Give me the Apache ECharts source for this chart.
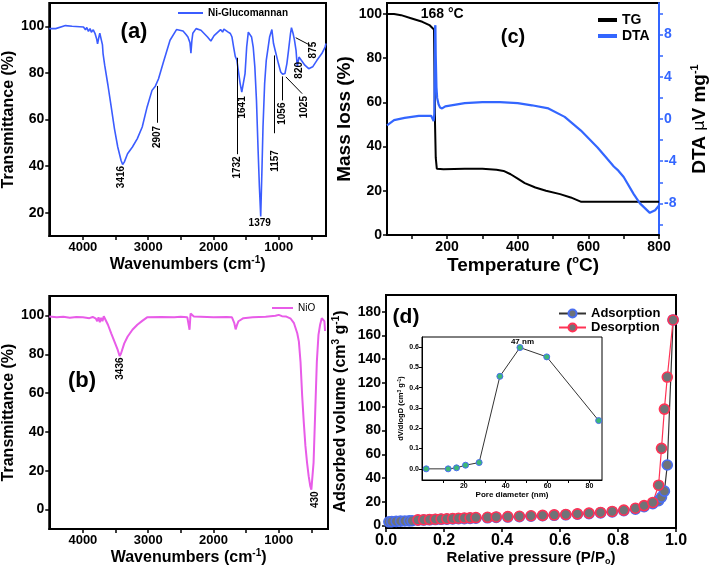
<!DOCTYPE html>
<html>
<head>
<meta charset="utf-8">
<script src="https://cdn.jsdelivr.net/npm/echarts@6/dist/echarts.min.js"></script>
<style>html,body{margin:0;padding:0;background:#fff}#c{width:710px;height:572px}</style>
</head>
<body>
<div id="c"></div>
<script>
// ---------- (a) Ni-Glucomannan FTIR ----------
const wnA = [4516,4416,4266,4165,3991,3960,3940,3915,3890,3870,3841,3815,3790,3775,3766,3750,3741,3716,3700,3691,3666,3616,3566,3516,3466,3415,3391,3366,3316,3241,3166,3091,3016,2941,2890,2841,2766,2665,2566,2466,2420,2391,2360,2345,2330,2316,2266,2191,2091,2040,1990,1891,1860,1840,1816,1780,1741,1716,1691,1666,1641,1616,1591,1566,1541,1516,1491,1466,1441,1416,1391,1366,1341,1316,1296,1276,1256,1241,1216,1191,1165,1140,1105,1080,1055,1030,1005,970,940,905,875,850,820,805,780,760,735,716,690,666,600,541,480,415,340,290,276];
const tA  = [99,99,100.3,100,99.7,98.5,99.5,97.8,99,97.5,98.5,97,94.7,92.5,93.2,96,97,97,92,88.3,83.3,74.7,65.4,56,48.2,42.4,40.7,41.7,45.3,48.2,51.8,56.8,65.4,72.5,74.3,77.5,84.7,94,98.6,98,96.5,95.4,93,88.5,94,97,99,98.3,95.4,93.7,96,98.6,97.5,98.8,98.3,97.6,96.9,95.4,91.1,87.1,85.4,80.4,75.4,71.8,71.3,79.7,91.1,97.5,98,95.4,91.1,82.6,68.2,46.8,31,18.4,39.6,56.8,75.4,85.4,90.4,95.4,98.6,92.6,89.7,89,84,80.4,79.4,79.7,84,89.7,96.9,99.4,96.9,94.3,89.7,82.6,86.8,86,83.3,81.8,82.6,85.4,88.3,91.1,92.6];
// peak labels (a): text, wavenumber, %T
const labA   = ['3416','2907','1732','1641','1157','1056','1025','820','875'];
const labAwn = [3415,2865,1641,1556,1055,940,606,691,466];
const labAt  = [35.3,52.5,39.4,65.2,42.2,62.5,65.3,81.1,89.8];
const hLabA = '1379', hLabAwn = 1291, hLabAt = 15.3;
// arrows (a): [wnFrom, tFrom, wnTo, tTo]
const arrA = [[2865,58.6,2865,74.4],[1641,45.1,1641,86.5],[1070,54.1,1070,87.5],[950,68.2,950,78.5],[641,71.1,891,78.3],[515,91.8,740,95.1]];

// ---------- (b) NiO FTIR ----------
const wnB = [4516,4400,4300,4200,4100,4000,3900,3850,3800,3780,3760,3740,3720,3700,3680,3666,3616,3566,3516,3466,3436,3416,3366,3316,3241,3166,3091,3016,2800,2600,2500,2400,2380,2366,2350,2330,2300,2000,1800,1716,1680,1660,1640,1616,1541,1400,1200,1050,1000,950,891,816,766,716,691,666,641,616,591,566,541,516,500,491,466,441,416,391,366,341,316,300,290];
const tB  = [99.5,99,99.3,98.8,99.2,99,98.6,99.2,98.3,97,99,96.5,98.8,97,99.6,99,95.2,90.8,86.5,82.2,79,80.4,85.6,89,92.6,95.2,97.2,99,99.2,99,99.3,99,98.5,92.6,101,100.3,99.5,99,99.2,99,96,92.8,95,97,98.6,99,99.3,99.8,100.3,99.6,99.5,98.3,96,90.8,86.5,76.1,58.8,44.9,32.8,24.2,17.2,12,10.3,11.2,24.2,50.1,76.1,90,95.2,98.6,99.5,97,92];
const labB   = ['3436','430'];
const labBwn = [3425,440];
const labBt  = [72.6,5.1];

// ---------- (c) TG / DTA ----------
const tempTG = [30,50,70,100,130,150,163,166,168,171,190,250,300,340,360,380,400,420,450,480,520,550,580,800];
const tg     = [100,100,99.5,98,96.5,95,93,50,35,30,29.8,30,30,29.5,29,27.5,25.5,23.5,21.5,20,18.5,17,15,15];
const tempDTA = [30,50,80,120,155,160,162,164,165,166,167,168,170,172,176,180,186,195,250,300,350,400,440,487,533,579,626,654,672,685,700,728,746,774,789,800];
const dta     = [-0.6,-0.1,0.1,0.3,0.3,0.2,-0.2,0.5,4,8.7,8.9,6,3,2,1.4,1.1,1.0,1.2,1.5,1.6,1.6,1.5,1.3,1.0,0.2,-1.1,-2.7,-3.8,-4.5,-4.9,-5.5,-7.1,-8.0,-8.9,-8.65,-8.2];

// ---------- (d) N2 isotherm ----------
const pAds = [0.01,0.02,0.035,0.05,0.065,0.08,0.09,0.11,0.13,0.15,0.17,0.19,0.21,0.23,0.25,0.27,0.29,0.31,0.35,0.38,0.42,0.46,0.50,0.54,0.58,0.62,0.66,0.70,0.74,0.78,0.82,0.86,0.89,0.92,0.94,0.95,0.96,0.97,0.99];
const vAds = [3.2,3.4,3.6,3.8,3.9,4.0,4.1,4.5,4.7,4.9,5.1,5.3,5.4,5.6,5.8,5.9,6.1,6.3,6.6,6.9,7.2,7.5,7.9,8.3,8.7,9.1,9.6,10.1,10.7,11.5,12.5,13.9,15.9,18.5,21,24,29,51,173];
const pDes = [0.11,0.13,0.15,0.17,0.19,0.21,0.23,0.25,0.27,0.29,0.31,0.35,0.38,0.42,0.46,0.50,0.54,0.58,0.62,0.66,0.70,0.74,0.78,0.82,0.86,0.89,0.92,0.94,0.95,0.96,0.97,0.99];
const vDes = [4.8,5.0,5.2,5.4,5.6,5.8,6.0,6.2,6.4,6.6,6.8,7.0,7.3,7.6,7.9,8.3,8.6,9.0,9.4,9.9,10.5,11.1,11.9,13.0,14.6,16.8,19.5,34,65,98,125,173];
// inset: pore size distribution
const poreD = [2,12.5,16.5,20.8,27.3,37.2,46.8,59.6,84.4];
const dVdlogD = [0,0,0.005,0.018,0.031,0.456,0.598,0.552,0.238];

// ---------- tick values ----------
const irLabels = [1000,2000,3000,4000];
const irTicks = [500,1000,1500,2000,2500,3000,3500,4000];
const tAlabels = [20,40,60,80,100];
const tBlabels = [0,20,40,60,80,100];
const tempLabels = [200,400,600,800];
const tempTicks = [100,200,300,400,500,600,700,800];
const massLabels = [0,20,40,60,80,100];
const dtaLabels = [-8,-4,0,4,8];
const dtaTicks = [-10,-8,-6,-4,-2,0,2,4,6,8,10];
const volLabels = [0,20,40,60,80,100,120,140,160,180];
const poreLabels = [20,40,60,80];
const poreTicks = [10,20,30,40,50,60,70,80];
const dvLabels = [0,0.1,0.2,0.3,0.4,0.5,0.6];

const FF = "'Liberation Sans', Arial, Helvetica, sans-serif";
const zip = (a, b) => a.map((v, i) => [v, b[i]]);

function richFor(size) {
  return {
    n: {fontFamily: FF, fontWeight: 'bold', fontSize: size, color: '#000'},
    s: {fontFamily: FF, fontWeight: 'bold', fontSize: Math.round(size * 0.6), color: '#000', padding: [0, 0, Math.round(size * 0.55), 0]},
    b: {fontFamily: FF, fontWeight: 'bold', fontSize: Math.round(size * 0.6), color: '#000', padding: [Math.round(size * 0.5), 0, 0, 0]},
    g: {fontFamily: "'DejaVu Sans', sans-serif", fontWeight: 'normal', fontSize: Math.round(size * 0.85), color: '#000'}
  };
}

function axis(o) {
  const col = o.color || '#000';
  const a = {
    type: 'value',
    gridIndex: o.grid,
    min: o.min, max: o.max,
    inverse: !!o.inverse,
    position: o.position,
    splitLine: {show: false},
    axisLine: {show: true, onZero: false, lineStyle: {color: col, width: o.lw || 2}},
    axisTick: {show: true, inside: false, length: o.tickLen || 4, lineStyle: {color: col, width: o.tw || 1.5}, customValues: o.ticks},
    axisLabel: {show: true, color: col, fontFamily: FF, fontWeight: 'bold', fontSize: o.fs || 13, margin: o.margin || 5, customValues: o.labels,
      formatter: o.fmt || (v => String(v))},
    name: o.name || '',
    nameLocation: 'middle',
    nameGap: o.nameGap || 20,
    nameRotate: o.nameRotate,
    nameTextStyle: {fontFamily: FF, fontWeight: 'bold', fontSize: o.ns || 16, color: '#000', rich: richFor(o.ns || 16)}
  };
  if (o.interval) a.interval = o.interval;
  return a;
}

const grids = [
  {left: 43, top: 3, width: 283, height: 233},
  {left: 43, top: 296, width: 285, height: 233},
  {left: 387, top: 3, width: 276, height: 232},
  {left: 386, top: 295, width: 290, height: 233},
  {left: 422, top: 337, width: 180, height: 143}
].map((g, i) => Object.assign({show: true, borderColor: '#000', borderWidth: i === 4 ? 1 : 2, backgroundColor: 'transparent', containLabel: false}, g));

const xAxes = [
  axis({grid: 0, min: 276, max: 4515, inverse: true, labels: irLabels, ticks: irTicks, fs: 13,
        name: '{n|Wavenumbers (cm}{s|-1}{n|)}', nameGap: 14, ns: 16}),
  axis({grid: 1, min: 245, max: 4515, inverse: true, labels: irLabels, ticks: irTicks, fs: 13,
        name: '{n|Wavenumbers (cm}{s|-1}{n|)}', nameGap: 14, ns: 16}),
  axis({grid: 2, min: 30, max: 800, labels: tempLabels, ticks: tempTicks, fs: 14,
        name: '{n|Temperature (}{s|o}{n|C)}', nameGap: 19, ns: 19}),
  axis({grid: 3, min: 0, max: 1.0, interval: 0.2, fs: 16, fmt: v => v.toFixed(1),
        name: '{n|Relative pressure (P/P}{b|o}{n|)}', nameGap: 20, ns: 15}),
  axis({grid: 4, min: 0, max: 86, labels: poreLabels, ticks: poreTicks, fs: 7, lw: 1, tw: 1, tickLen: 3, margin: 3,
        name: 'Pore diameter (nm)', nameGap: 10, ns: 8})
];
xAxes[4].nameTextStyle.letterSpacing = 0.5;

const yAxes = [
  axis({grid: 0, min: 10, max: 110, labels: tAlabels, ticks: tAlabels, fs: 14,
        name: 'Transmittance (%)', nameGap: 25, nameRotate: 90, ns: 16}),
  axis({grid: 1, min: -10, max: 110, labels: tBlabels, ticks: tBlabels, fs: 14,
        name: 'Transmittance (%)', nameGap: 25, nameRotate: 90, ns: 16}),
  axis({grid: 2, min: 0, max: 105, labels: massLabels, ticks: massLabels, fs: 14,
        name: 'Mass loss (%)', nameGap: 27, nameRotate: 90, ns: 19}),
  axis({grid: 2, min: -11, max: 11, labels: dtaLabels, ticks: dtaTicks, fs: 14, color: '#3366ff', position: 'right',
        fmt: v => String(v),
        name: '{n|DTA }{g|\u03bc}{n|V mg}{s|-1}', nameGap: 30, nameRotate: 90, ns: 19}),
  axis({grid: 3, min: -2, max: 194, labels: volLabels, ticks: volLabels, fs: 14,
        name: '{n|Adsorbed volume (cm}{s|3}{n| g}{s|-1}{n|)}', nameGap: 36, nameRotate: 90, ns: 16}),
  axis({grid: 4, min: -0.055, max: 0.65, labels: dvLabels, ticks: dvLabels, fs: 7, lw: 1, tw: 1, tickLen: 3, margin: 3,
        fmt: v => v.toFixed(1),
        name: '{n|dV/dlogD (cm}{s|3}{n| g}{s|-1}{n|)}', nameGap: 16, nameRotate: 90, ns: 7.5})
];

const lblStyle = {show: true, color: '#000', fontFamily: FF, fontWeight: 'bold', fontSize: 10, position: 'inside', formatter: '{b}'};

function vLabels(names, xs, ys) {
  return names.map((n, i) => ({name: n, coord: [xs[i], ys[i]], label: Object.assign({}, lblStyle, {rotate: 90})}));
}
function arrows(list) {
  return list.map(a => [{coord: [a[0], a[1]]}, {coord: [a[2], a[3]]}]);
}

const GRAY = '#6f7377';

const series = [
  {
    name: 'Ni-Glucomannan', type: 'line', xAxisIndex: 0, yAxisIndex: 0, data: zip(wnA, tA),
    showSymbol: false, symbol: 'none', lineStyle: {color: '#3b5cff', width: 1.6}, itemStyle: {color: '#3b5cff'},
    markPoint: {symbol: 'circle', symbolSize: 0, silent: true, itemStyle: {color: 'transparent'},
      data: vLabels(labA, labAwn, labAt).concat([{name: hLabA, coord: [hLabAwn, hLabAt], label: Object.assign({}, lblStyle)}])},
    markLine: {silent: true, symbol: ['none', 'arrow'], symbolSize: [0, 6], lineStyle: {color: '#000', width: 1, type: 'solid'},
      label: {show: false}, emphasis: {disabled: true}, data: arrows(arrA)}
  },
  {
    name: 'NiO', type: 'line', xAxisIndex: 1, yAxisIndex: 1, data: zip(wnB, tB),
    showSymbol: false, symbol: 'none', lineStyle: {color: '#e85ce8', width: 2}, itemStyle: {color: '#e85ce8'},
    markPoint: {symbol: 'circle', symbolSize: 0, silent: true, itemStyle: {color: 'transparent'},
      data: vLabels(labB, labBwn, labBt)}
  },
  {
    name: 'TG', type: 'line', xAxisIndex: 2, yAxisIndex: 2, data: zip(tempTG, tg),
    showSymbol: false, symbol: 'none', lineStyle: {color: '#000', width: 2}, itemStyle: {color: '#000'},
    markPoint: {symbol: 'circle', symbolSize: 0, silent: true, itemStyle: {color: 'transparent'},
      data: [{name: '168 \u00b0C', coord: [186, 100], label: Object.assign({}, lblStyle, {fontSize: 14})}]}
  },
  {
    name: 'DTA', type: 'line', xAxisIndex: 2, yAxisIndex: 3, data: zip(tempDTA, dta),
    showSymbol: false, symbol: 'none', lineStyle: {color: '#3366ff', width: 2.2}, itemStyle: {color: '#3366ff'}
  },
  {
    name: 'Adsorption', type: 'line', xAxisIndex: 3, yAxisIndex: 4, data: zip(pAds, vAds),
    symbol: 'circle', symbolSize: 10, showSymbol: true,
    lineStyle: {color: '#333', width: 1.2}, itemStyle: {color: GRAY, borderColor: '#4a6ef0', borderWidth: 1.6}
  },
  {
    name: 'Desorption', type: 'line', xAxisIndex: 3, yAxisIndex: 4, data: zip(pDes, vDes),
    symbol: 'circle', symbolSize: 10, showSymbol: true,
    lineStyle: {color: '#ff3355', width: 1.2}, itemStyle: {color: GRAY, borderColor: '#ff3355', borderWidth: 1.6}
  },
  {
    name: 'PSD', type: 'line', xAxisIndex: 4, yAxisIndex: 5, data: zip(poreD, dVdlogD),
    symbol: 'circle', symbolSize: 6, showSymbol: true, z: 5,
    lineStyle: {color: '#333', width: 1}, itemStyle: {color: '#3cb878', borderColor: '#4a6ef0', borderWidth: 1},
    markPoint: {symbol: 'circle', symbolSize: 0, silent: true, itemStyle: {color: 'transparent'},
      data: [{name: '47 nm', coord: [48, 0.625], label: Object.assign({}, lblStyle, {fontSize: 8})}]}
  }
];

const legTxt = (s) => ({fontFamily: FF, fontWeight: 'bold', fontSize: s, color: '#000'});
const legends = [
  {data: ['Ni-Glucomannan'], left: 178, top: 8, padding: 0, icon: 'rect', itemWidth: 25, itemHeight: 2, textStyle: legTxt(10)},
  {data: ['NiO'], left: 272, top: 303, padding: 0, icon: 'rect', itemWidth: 21, itemHeight: 2, textStyle: Object.assign(legTxt(10), {fontWeight: 'normal'})},
  {data: ['TG', 'DTA'], orient: 'vertical', left: 598, top: 13, padding: 0, icon: 'rect', itemWidth: 19, itemHeight: 4, itemGap: 2, textStyle: legTxt(14)},
  {data: ['Adsorption', 'Desorption'], orient: 'vertical', left: 558, top: 307, padding: 0, itemWidth: 27, itemHeight: 10, itemGap: 1, textStyle: legTxt(13)}
];

const panelTags = [
  {t: '(a)', x: 134, y: 32, s: 22},
  {t: '(b)', x: 82, y: 381, s: 22},
  {t: '(c)', x: 513, y: 37, s: 20},
  {t: '(d)', x: 406, y: 317, s: 21}
];

const chart = echarts.init(document.getElementById('c'), null, {renderer: 'canvas'});
chart.setOption({
  animation: false,
  backgroundColor: '#fff',
  grid: grids,
  xAxis: xAxes,
  yAxis: yAxes,
  legend: legends,
  series: series,
  graphic: panelTags.map(p => ({type: 'text', x: p.x, y: p.y, z: 100,
    style: {text: p.t, fontFamily: FF, fontWeight: 'bold', fontSize: p.s, fill: '#000', textAlign: 'center', textVerticalAlign: 'middle'}}))
});
</script>
</body>
</html>
